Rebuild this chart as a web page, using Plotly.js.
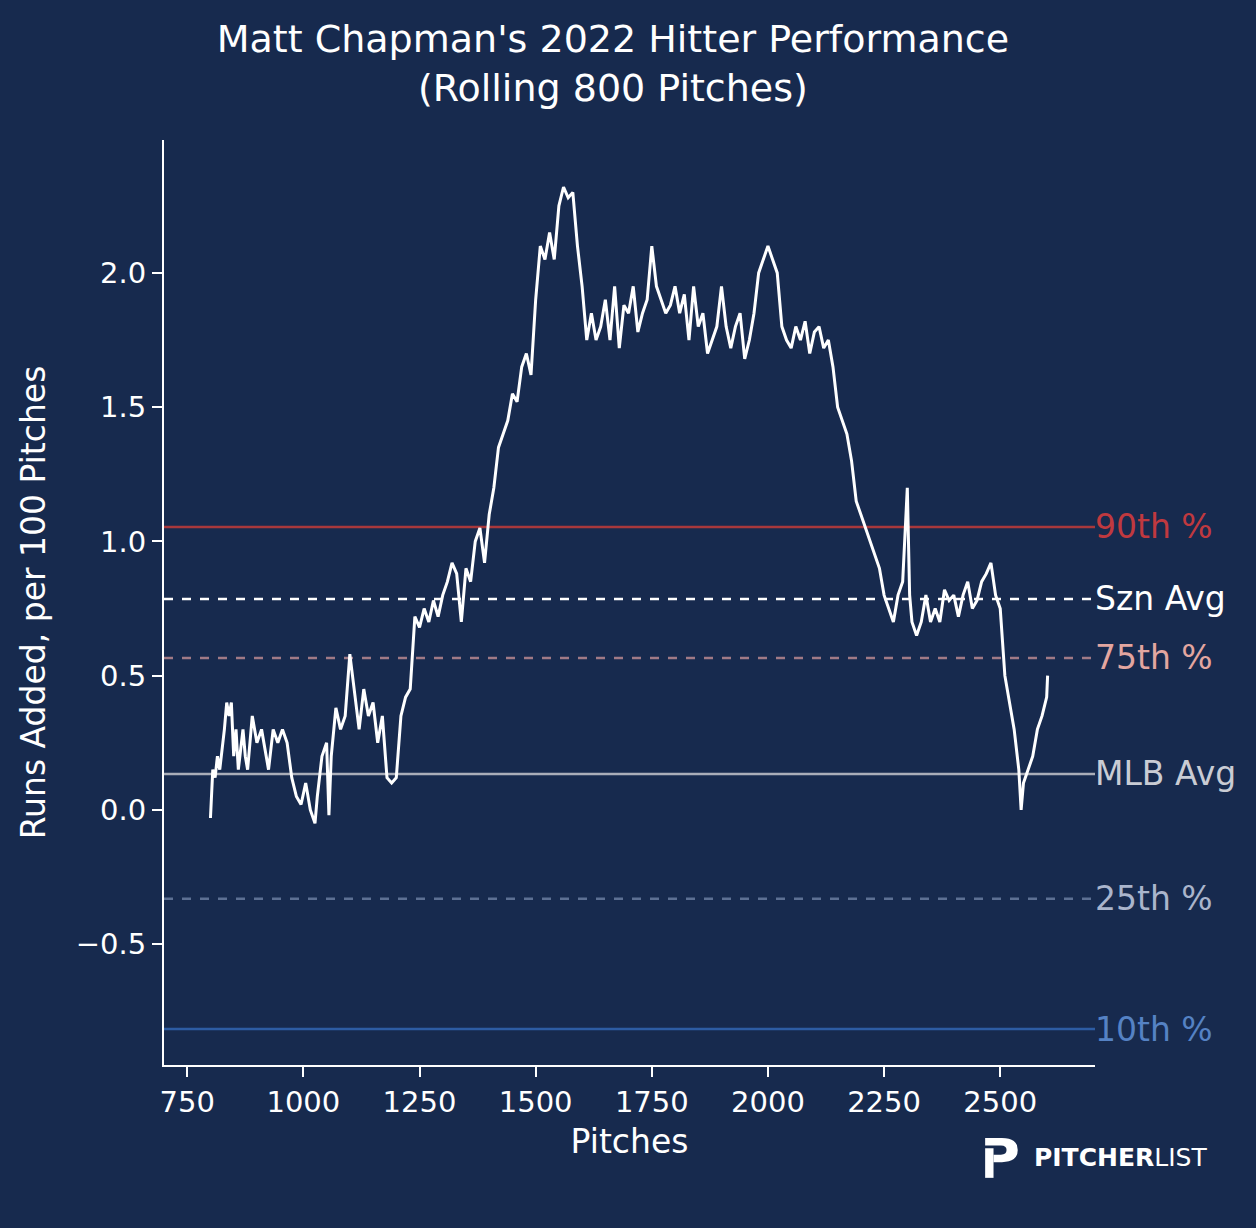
<!DOCTYPE html>
<html>
<head>
<meta charset="utf-8">
<script src="https://cdn.plot.ly/plotly-3.0.1.min.js"></script>
<style>html,body{margin:0;padding:0;background:#172a4e;}</style>
</head>
<body>
<div id="chart" style="width:1256px;height:1228px;"></div>
<script>
// rolling runs added
const pitches = [800,805,810,815,820,830,835,840,845,850,855,860,870,875,880,890,900,910,920,925,935,945,955,965,975,985,995,1005,1015,1025,1030,1040,1050,1055,1060,1070,1080,1090,1100,1110,1120,1130,1140,1150,1160,1170,1180,1190,1200,1210,1220,1230,1240,1250,1260,1270,1280,1290,1300,1310,1320,1330,1340,1350,1360,1370,1380,1390,1400,1410,1420,1430,1440,1450,1460,1470,1480,1490,1500,1510,1520,1530,1540,1550,1560,1570,1580,1590,1600,1610,1620,1630,1640,1650,1660,1670,1680,1690,1700,1710,1720,1730,1740,1750,1760,1770,1780,1790,1800,1810,1820,1830,1840,1850,1860,1870,1880,1890,1900,1910,1920,1930,1940,1950,1960,1970,1980,1990,2000,2010,2020,2030,2040,2050,2060,2070,2080,2090,2100,2110,2120,2130,2140,2150,2160,2170,2180,2190,2200,2210,2220,2230,2240,2250,2260,2270,2280,2290,2300,2305,2310,2320,2330,2340,2350,2360,2370,2380,2390,2400,2410,2420,2430,2440,2450,2460,2470,2480,2490,2500,2510,2520,2530,2540,2545,2550,2560,2570,2580,2590,2600,2602];
const runsAdded = [-0.03,0.15,0.12,0.2,0.15,0.3,0.4,0.35,0.4,0.2,0.3,0.15,0.3,0.2,0.15,0.35,0.25,0.3,0.2,0.15,0.3,0.25,0.3,0.25,0.12,0.05,0.02,0.1,0.0,-0.05,0.05,0.2,0.25,-0.02,0.2,0.38,0.3,0.35,0.58,0.45,0.3,0.45,0.35,0.4,0.25,0.35,0.12,0.1,0.12,0.35,0.42,0.45,0.72,0.68,0.75,0.7,0.78,0.72,0.8,0.85,0.92,0.88,0.7,0.9,0.85,1.0,1.05,0.92,1.1,1.2,1.35,1.4,1.45,1.55,1.52,1.65,1.7,1.62,1.9,2.1,2.05,2.15,2.05,2.25,2.32,2.28,2.3,2.1,1.95,1.75,1.85,1.75,1.8,1.9,1.75,1.95,1.72,1.88,1.85,1.95,1.78,1.85,1.9,2.1,1.95,1.9,1.85,1.88,1.95,1.85,1.92,1.75,1.95,1.8,1.85,1.7,1.75,1.8,1.95,1.8,1.72,1.8,1.85,1.68,1.75,1.85,2.0,2.05,2.1,2.05,2.0,1.8,1.75,1.72,1.8,1.75,1.82,1.7,1.78,1.8,1.72,1.75,1.65,1.5,1.45,1.4,1.3,1.15,1.1,1.05,1.0,0.95,0.9,0.8,0.75,0.7,0.8,0.85,1.2,0.8,0.7,0.65,0.7,0.8,0.7,0.75,0.7,0.82,0.78,0.8,0.72,0.8,0.85,0.75,0.78,0.85,0.88,0.92,0.8,0.75,0.5,0.4,0.3,0.15,0.0,0.1,0.15,0.2,0.3,0.35,0.42,0.5];

const refNames = ['90th %', 'Szn Avg', '75th %', 'MLB Avg', '25th %', '10th %'];
const refValues = [1.054, 0.786, 0.566, 0.134, -0.331, -0.816];
const refColors = ['#a8383c', '#ffffff', '#a07a86', '#a9adb8', '#5d7093', '#2d5ca3'];
const refDash = ['solid', 'dash', 'dash', 'solid', 'dash', 'solid'];
const labelColors = ['#c0393f', '#ffffff', '#e3a6a0', '#c9ccd4', '#aab5cc', '#5582c4'];

const xMin = 700, xMax = 2704;

const traces = refValues.map((v, i) => ({
    x: [xMin, xMax], y: [v, v], mode: 'lines', hoverinfo: 'skip',
    line: {color: refColors[i], width: 2.5, dash: refDash[i]},
}));
traces.push({x: pitches, y: runsAdded, mode: 'lines', line: {color: '#ffffff', width: 3}});

const annotations = refValues.map((v, i) => ({
    x: 1, xref: 'paper', y: v, yref: 'y', xanchor: 'left', showarrow: false,
    text: refNames[i], font: {size: 33, color: labelColors[i]}, xshift: -2,
}));
annotations.push({
    x: 0.932, y: -0.1005, xref: 'paper', yref: 'paper', xanchor: 'left', yanchor: 'middle',
    showarrow: false, text: '<b>PITCHER</b>LIST', font: {size: 25, color: '#ffffff'},
});

const layout = {
    width: 1256, height: 1228,
    paper_bgcolor: '#172a4e', plot_bgcolor: '#172a4e',
    font: {family: 'DejaVu Sans', color: '#ffffff', size: 29},
    showlegend: false,
    margin: {l: 164, r: 161, t: 140, b: 163},
    title: {text: "Matt Chapman's 2022 Hitter Performance<br>(Rolling 800 Pitches)",
        x: 0.488, xanchor: 'center', yref: 'container', y: 0.958, yanchor: 'top', font: {size: 38}},
    xaxis: {range: [xMin, xMax], showgrid: false, zeroline: false, showline: true,
        linecolor: '#ffffff', linewidth: 2, ticks: 'outside', tickcolor: '#ffffff',
        ticklen: 10, tickwidth: 2, tickvals: [750,1000,1250,1500,1750,2000,2250,2500],
        title: {text: 'Pitches', font: {size: 33}, standoff: 12}},
    yaxis: {range: [-0.95, 2.495], showgrid: false, zeroline: false, showline: true,
        linecolor: '#ffffff', linewidth: 2, ticks: 'outside', tickcolor: '#ffffff',
        ticklen: 10, tickwidth: 2, tickvals: [-0.5, 0, 0.5, 1, 1.5, 2],
        ticktext: ['\u22120.5', '0.0', '0.5', '1.0', '1.5', '2.0'],
        title: {text: 'Runs Added, per 100 Pitches', font: {size: 33}, standoff: 20}},
    annotations: annotations,
    shapes: [
        {type: 'rect', xref: 'paper', yref: 'paper', x0: 0.882, x1: 0.891, y0: -0.122, y1: -0.09,
            fillcolor: '#ffffff', line: {width: 0}},
        {type: 'path', xref: 'paper', yref: 'paper',
            path: 'M 0.882 -0.079 L 0.900 -0.079 Q 0.917 -0.079 0.917 -0.092 Q 0.917 -0.105 0.900 -0.105 L 0.891 -0.105 L 0.891 -0.097 L 0.899 -0.097 Q 0.905 -0.097 0.905 -0.092 Q 0.905 -0.087 0.899 -0.087 L 0.882 -0.087 Z',
            fillcolor: '#ffffff', line: {width: 0}},
    ],
};

Plotly.newPlot('chart', traces, layout, {displayModeBar: false});
</script>
</body>
</html>
